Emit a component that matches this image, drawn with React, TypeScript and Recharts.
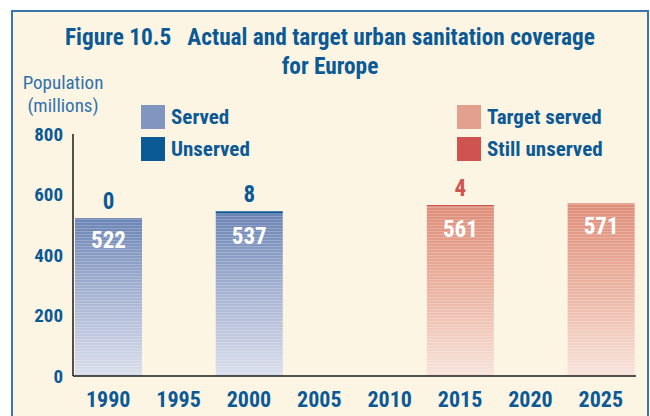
import React from 'react';
import { BarChart, Bar, XAxis, YAxis, LabelList } from 'recharts';

const years = ['1990', '1995', '2000', '2005', '2010', '2015', '2020', '2025'];
const served = [522, null, 537, null, null, null, null, null];
const unserved = [0, null, 8, null, null, null, null, null];
const targetServed = [null, null, null, null, null, 561, null, 571];
const stillUnserved = [null, null, null, null, null, 4, null, null];
const yTicks = [0, 200, 400, 600, 800];

const data = years.map((year, i) => ({
  year,
  served: served[i],
  unserved: unserved[i],
  targetServed: targetServed[i],
  stillUnserved: stillUnserved[i],
}));

const FONT = '"Roboto Condensed", "Open Sans Condensed", sans-serif';
const BLUE = '#0b5a96';
const RED = '#cf5450';
const CREAM = '#fdf5e3';

const makeStriped = (gradId: string) => (props: any) => {
  const { x, y, width, height } = props;
  if (!height || height <= 0) return null;
  return (
    <g>
      <rect x={x} y={y} width={width} height={height} fill={`url(#${gradId})`} />
      <rect x={x} y={y} width={width} height={height} fill="url(#stripes)" />
    </g>
  );
};

const ServedShape = makeStriped('gradServed');
const TargetShape = makeStriped('gradTarget');

const topLabel = (color: string, onlyZero: boolean) => (props: any) => {
  const { x, y, width, value } = props;
  if (value === null || value === undefined) return null;
  if (onlyZero ? value !== 0 : value === 0) return null;
  return (
    <text
      x={Number(x) + Number(width) / 2}
      y={Number(y) - 9}
      textAnchor="middle"
      fill={color}
      fontFamily={FONT}
      fontWeight="bold"
      fontSize={23}
    >
      {value}
    </text>
  );
};

const legendItems = [
  { label: 'Served', color: '#8096c0', left: 141, top: 105 },
  { label: 'Unserved', color: BLUE, left: 141, top: 137 },
  { label: 'Target served', color: '#e4a08e', left: 457, top: 105 },
  { label: 'Still unserved', color: RED, left: 457, top: 137 },
];

const titleLines = ['Figure 10.5\u00a0\u00a0\u00a0Actual and target urban sanitation coverage', 'for Europe'];
const axisTitleLines = ['Population', '(millions)'];

export default function App() {
  return (
    <div style={{ position: 'fixed', left: 0, top: 0, width: 650, height: 416, overflow: 'hidden', background: '#fff' }}>
      <svg width={0} height={0} style={{ position: 'absolute' }}>
        <defs>
          <linearGradient id="gradServed" x1="0" y1="0" x2="0" y2="1">
            <stop offset="0" stopColor="#6b84b4" />
            <stop offset="0.45" stopColor="#a2b0d0" />
            <stop offset="1" stopColor="#dadeec" />
          </linearGradient>
          <linearGradient id="gradTarget" x1="0" y1="0" x2="0" y2="1">
            <stop offset="0" stopColor="#de8d78" />
            <stop offset="0.5" stopColor="#ebb4a2" />
            <stop offset="1" stopColor="#f7e3db" />
          </linearGradient>
          <pattern id="stripes" width="4" height="3" patternUnits="userSpaceOnUse">
            <rect x="0" y="0" width="4" height="1" fill="#ffffff" fillOpacity="0.22" />
          </pattern>
        </defs>
      </svg>
      <div
        style={{
          position: 'absolute',
          left: 11,
          top: 10,
          width: 638,
          height: 430,
          border: '2px solid #3a74a8',
          background: CREAM,
          boxSizing: 'border-box',
        }}
      />
      {titleLines.map((t, i) => (
        <div
          key={t}
          style={{
            position: 'absolute',
            left: 11,
            top: 23 + i * 29,
            width: 638,
            display: 'flex',
            justifyContent: 'center',
          }}
        >
          <span
            style={{
              fontFamily: FONT,
              fontWeight: 'bold',
              fontSize: 23.3,
              lineHeight: '29px',
              color: BLUE,
              whiteSpace: 'nowrap',
            }}
          >
            {t}
          </span>
        </div>
      ))}
      {axisTitleLines.map((t, i) => (
        <div
          key={t}
          style={{
            position: 'absolute',
            left: 18,
            top: 71 + i * 23,
            width: 90,
            display: 'flex',
            justifyContent: 'center',
          }}
        >
          <span style={{ fontFamily: FONT, fontSize: 19, lineHeight: '23px', color: '#2f72ab', whiteSpace: 'nowrap' }}>{t}</span>
        </div>
      ))}
      {legendItems.map((it) => (
        <div key={it.label} style={{ position: 'absolute', left: it.left, top: it.top, height: 24, display: 'flex', alignItems: 'center' }}>
          <div style={{ width: 24, height: 24, background: it.color }} />
          <span style={{ marginLeft: 6, fontFamily: FONT, fontWeight: 'bold', fontSize: 21, color: BLUE, whiteSpace: 'nowrap' }}>{it.label}</span>
        </div>
      ))}
      <div style={{ position: 'absolute', left: 0, top: 0 }}>
        <BarChart
          width={650}
          height={416}
          data={data}
          margin={{ top: 134, right: 14, bottom: 0, left: 0 }}
          barSize={67}
        >
          <XAxis
            dataKey="year"
            height={40}
            tickLine={false}
            tickMargin={9}
            axisLine={{ stroke: '#1a1a1a', strokeWidth: 1.5 }}
            tick={{ fill: BLUE, fontFamily: FONT, fontWeight: 'bold', fontSize: 22 }}
            interval={0}
          />
          <YAxis
            width={73}
            domain={[0, 800]}
            ticks={yTicks}
            tickLine={false}
            tickMargin={4}
            axisLine={{ stroke: '#1a1a1a', strokeWidth: 1.5 }}
            tick={{ fill: BLUE, fontFamily: FONT, fontWeight: 'bold', fontSize: 19 }}
          />
          <Bar dataKey="served" stackId="s" shape={ServedShape} isAnimationActive={false}>
            <LabelList dataKey="served" position="insideTop" offset={14} fill="#ffffff" fontFamily={FONT} fontWeight="bold" fontSize={23} />
            <LabelList dataKey="unserved" content={topLabel(BLUE, true)} />
          </Bar>
          <Bar dataKey="unserved" stackId="s" fill={BLUE} isAnimationActive={false}>
            <LabelList dataKey="unserved" content={topLabel(BLUE, false)} />
          </Bar>
          <Bar dataKey="targetServed" stackId="s" shape={TargetShape} isAnimationActive={false}>
            <LabelList dataKey="targetServed" position="insideTop" offset={14} fill="#ffffff" fontFamily={FONT} fontWeight="bold" fontSize={23} />
          </Bar>
          <Bar dataKey="stillUnserved" stackId="s" fill={RED} isAnimationActive={false}>
            <LabelList dataKey="stillUnserved" content={topLabel(RED, false)} />
          </Bar>
        </BarChart>
      </div>
    </div>
  );
}
